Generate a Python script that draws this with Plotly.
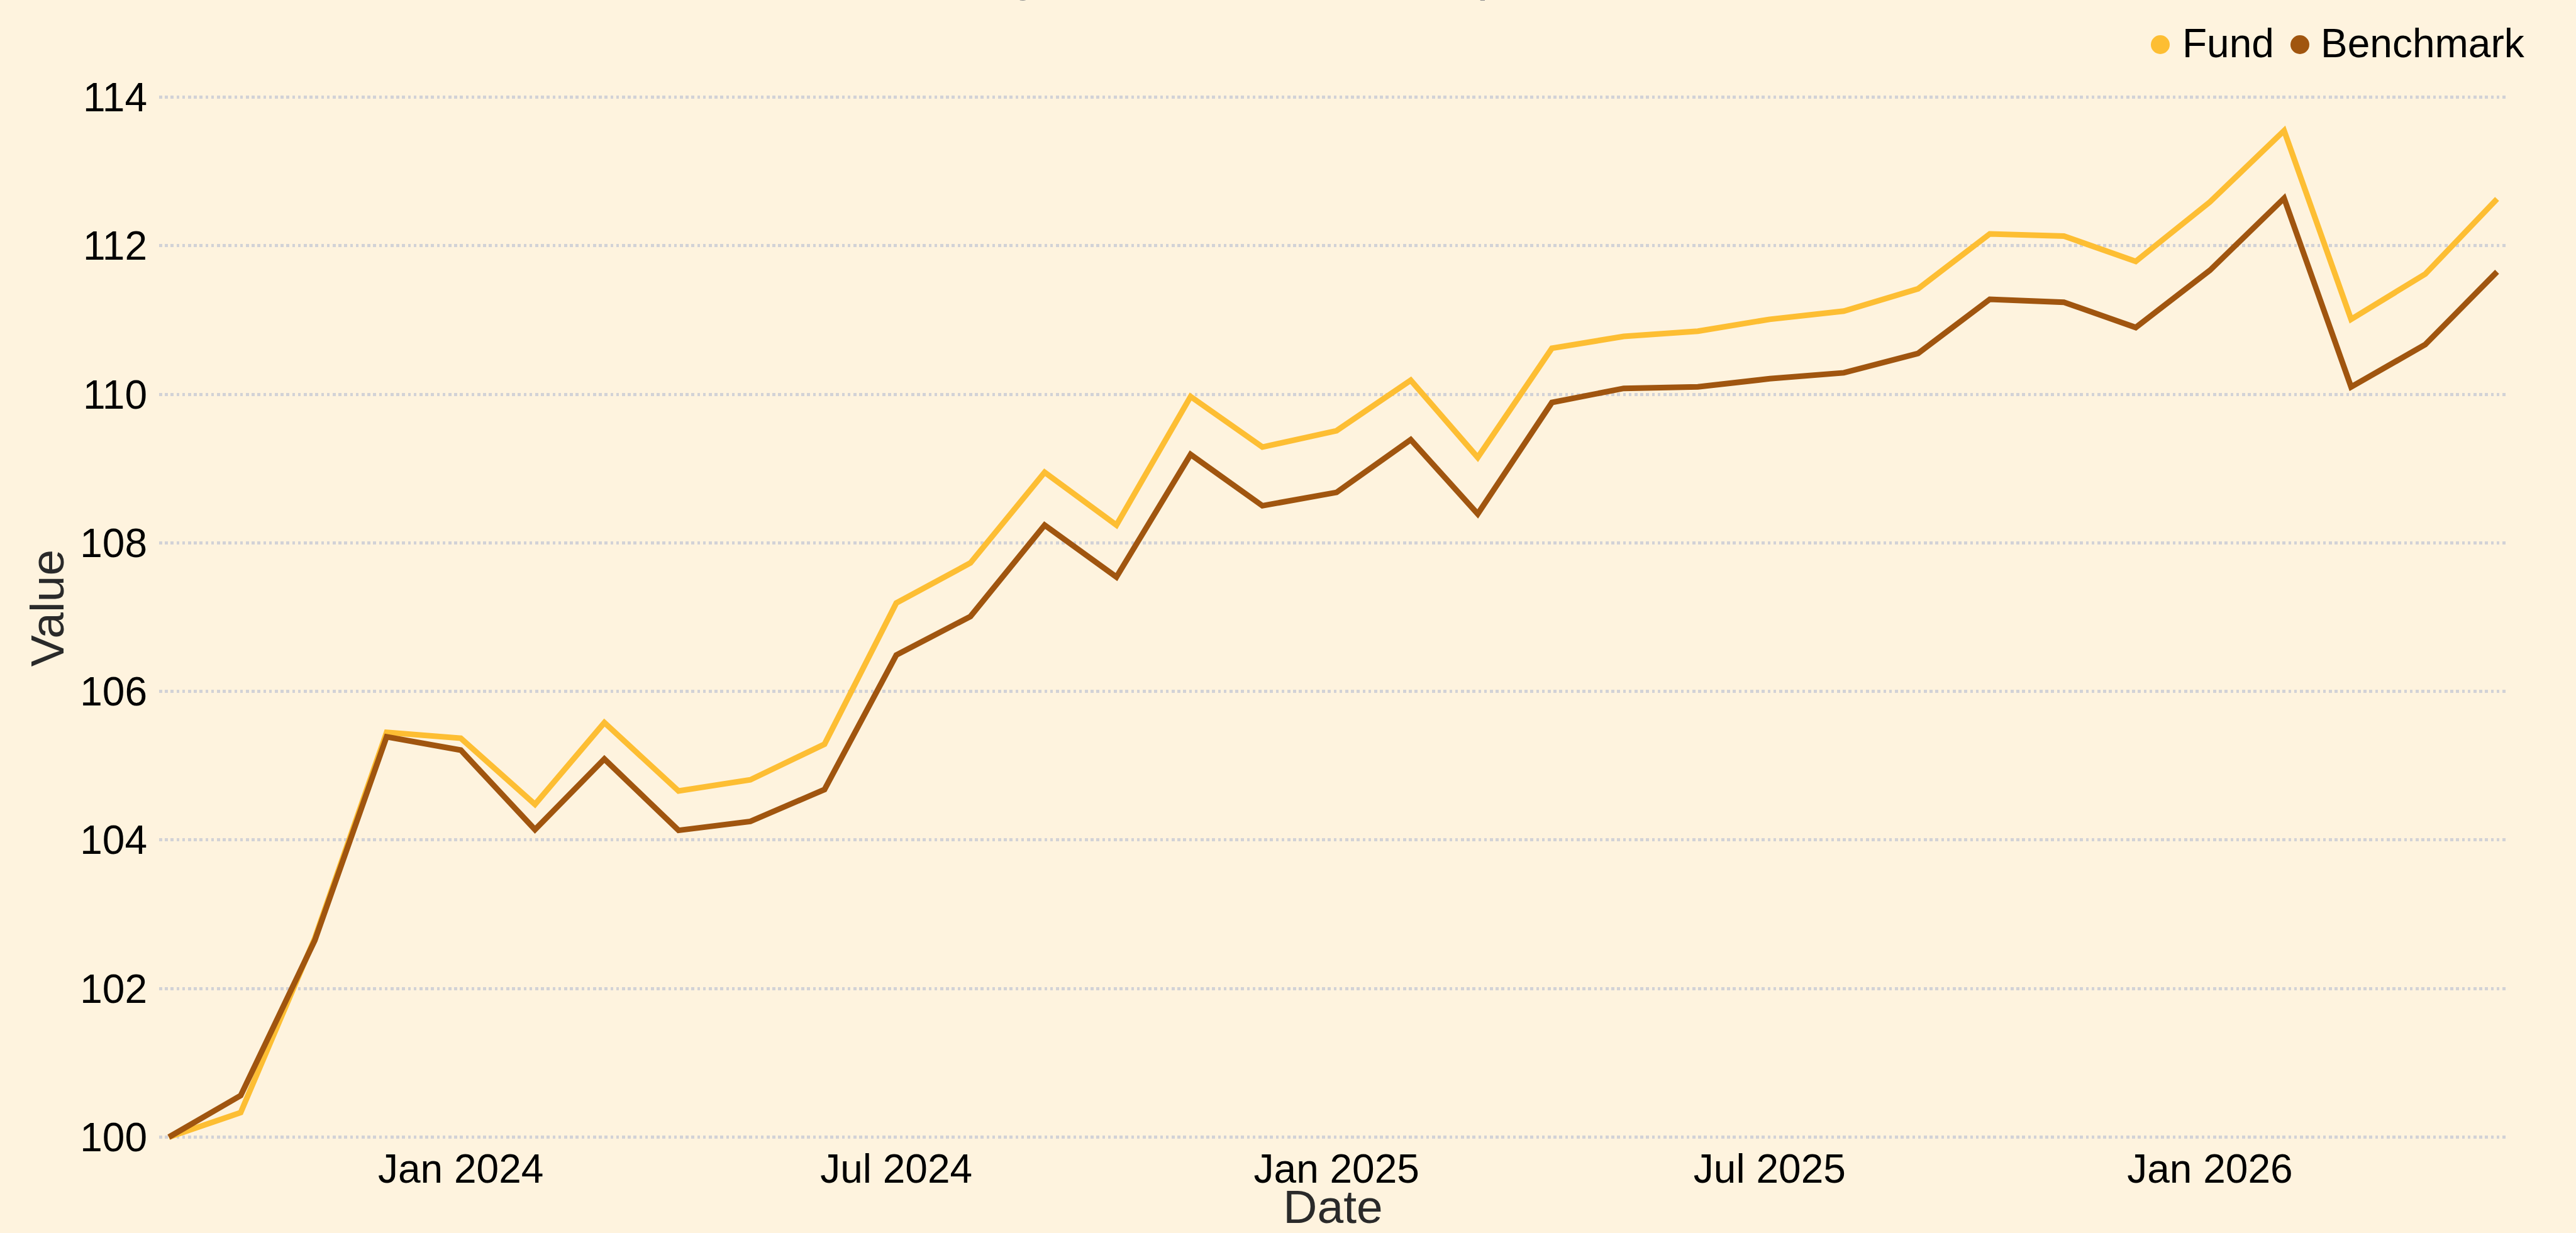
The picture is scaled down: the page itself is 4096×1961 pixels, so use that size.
import pandas as pd
import plotly.graph_objects as go

# Monthly index levels (start of month), both series rebased to 100
dates = pd.date_range("2023-09-01", periods=33, freq="MS")

fund = [
    100.00, 100.33, 102.68, 105.45,
    105.37, 104.48, 105.58, 104.66, 104.81, 105.29, 107.19, 107.73, 108.95, 108.24, 109.97, 109.29,
    109.51, 110.19, 109.15, 110.62, 110.78, 110.85, 111.01, 111.12, 111.42, 112.16, 112.13, 111.79,
    112.59, 113.55, 111.01, 111.62, 112.63,
]

benchmark = [
    100.00, 100.56, 102.65, 105.39,
    105.21, 104.14, 105.09, 104.13, 104.25, 104.68, 106.49, 107.01, 108.24, 107.54, 109.19, 108.50,
    108.68, 109.39, 108.39, 109.89, 110.08, 110.10, 110.21, 110.29, 110.55, 111.28, 111.24, 110.90,
    111.67, 112.64, 110.10, 110.67, 111.65,
]

series_names = ["Fund", "Benchmark"]
series_colors = ["#FDBE33", "#A0550F"]

FONT = "Liberation Sans, Arial, Helvetica, sans-serif"
BG = "#FEF3DE"
GRID = "#D2D2D6"

W, H = 4096, 1961
M_L, M_R, M_T, M_B = 253, 110, 120, 147
PLOT_W = W - M_L - M_R
PLOT_H = H - M_T - M_B


def px_x(px):
    return (px - M_L) / PLOT_W


def px_y(py):
    return (H - M_B - py) / PLOT_H


fig = go.Figure()
for name, values, color in zip(series_names, [fund, benchmark], series_colors):
    fig.add_trace(go.Scatter(
        x=dates, y=values, name=name, mode="lines",
        line=dict(color=color, width=9),
        showlegend=False,
    ))

# Legend drawn as dot + label pairs along the top right
legend_dot_x = [3435, 3657]
legend_text_x = [3468, 3688]
legend_y = 71
shapes = []
annotations = []
for name, color, dx, tx in zip(series_names, series_colors, legend_dot_x, legend_text_x):
    shapes.append(dict(
        type="circle", xref="paper", yref="paper",
        xsizemode="pixel", ysizemode="pixel",
        xanchor=px_x(dx), yanchor=px_y(legend_y),
        x0=-15, x1=15, y0=-15, y1=15,
        fillcolor=color, line=dict(width=0),
    ))
    annotations.append(dict(
        text=name, xref="paper", yref="paper",
        x=px_x(tx), y=px_y(68.5), xanchor="left", yanchor="middle",
        showarrow=False, font=dict(family=FONT, size=64, color="#000000"),
    ))

# Chart title sits at the very top edge
annotations.append(dict(
    text="Monthly Performance Comparison", xref="paper", yref="paper",
    x=px_x(1371), y=px_y(3), xanchor="left", yanchor="bottom",
    showarrow=False, font=dict(family=FONT, size=82, color="#8A8A8A"),
))

fig.update_layout(
    width=W, height=H,
    margin=dict(l=M_L, r=M_R, t=M_T, b=M_B, autoexpand=False),
    paper_bgcolor=BG, plot_bgcolor=BG,
    font=dict(family=FONT, color="#000000"),
    shapes=shapes, annotations=annotations,
    showlegend=False,
)

fig.update_xaxes(
    range=["2023-08-27 22:00", "2026-05-05 02:00"],
    tick0="2024-01-01", dtick="M6", tickformat="%b %Y",
    showgrid=False, zeroline=False, showline=False, ticks="",
    tickfont=dict(family=FONT, size=64, color="#000000"),
    ticklabelstandoff=2,
    title=dict(text="Date", font=dict(family=FONT, size=75, color="#2A2A2A"), standoff=28),
)

fig.update_yaxes(
    range=[99.9534, 114.293],
    tick0=100, dtick=2,
    showgrid=True, gridcolor=GRID, gridwidth=4.6, griddash="dot",
    zeroline=False, showline=False, ticks="",
    tickfont=dict(family=FONT, size=64, color="#000000"),
    ticklabelstandoff=18,
    title=dict(text="Value", font=dict(family=FONT, size=75, color="#2A2A2A"), standoff=0),
)

fig.write_html("out.html")
